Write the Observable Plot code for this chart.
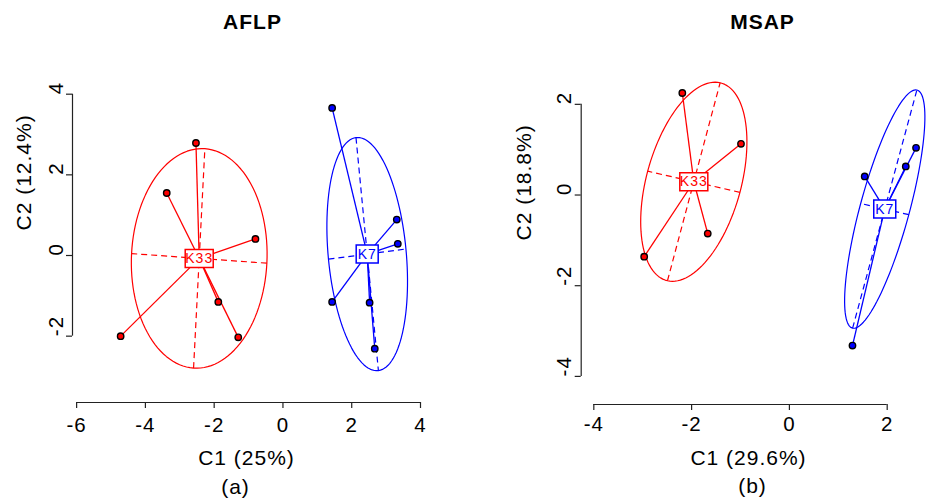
<!DOCTYPE html>
<html><head><meta charset="utf-8">
<script src="https://cdn.jsdelivr.net/npm/d3@7"></script>
<script src="https://cdn.jsdelivr.net/npm/@observablehq/plot@0.6"></script>
<style>
body{margin:0;background:#fff;}
#wrap{display:flex;width:928px;height:499px;overflow:hidden;}
#wrap svg text{letter-spacing:1px;}
</style></head><body><div id="wrap"></div>
<script>
// ---- data ----
const groupNames = ["K33", "K7"];
const groupColors = ["red", "blue"];

// AFLP
const aflpK33X = [-2.53, -3.38, -0.80, -1.88, -1.30, -4.72];
const aflpK33Y = [2.79, 1.55, 0.41, -1.15, -2.03, -2.00];
const aflpK7X  = [1.43, 3.31, 3.34, 1.43, 2.52, 2.67];
const aflpK7Y  = [3.66, 0.89, 0.29, -1.15, -1.17, -2.31];
const aflpXTicks = [-6, -4, -2, 0, 2, 4];
const aflpYTicks = [-2, 0, 2, 4];

// MSAP
const msapK33X = [-2.19, -0.99, -1.67, -2.97];
const msapK33Y = [2.25, 1.13, -0.85, -1.36];
const msapK7X  = [1.54, 2.38, 2.59, 1.29];
const msapK7Y  = [0.41, 0.63, 1.04, -3.32];
const msapXTicks = [-4, -2, 0, 2];
const msapYTicks = [-4, -2, 0, 2];

const FONT = '"Liberation Sans", Arial, Helvetica, sans-serif';
const CELLIPSE = 1.5;

function groupGeometry(xs, ys) {
  const pts = xs.map((x, i) => ({x, y: ys[i]}));
  const cx = d3.mean(xs), cy = d3.mean(ys);
  const a = d3.mean(pts, d => (d.x - cx) ** 2);
  const c = d3.mean(pts, d => (d.y - cy) ** 2);
  const b = d3.mean(pts, d => (d.x - cx) * (d.y - cy));
  const m = (a + c) / 2, r = Math.sqrt(((a - c) / 2) ** 2 + b * b);
  const l1 = m + r, l2 = Math.max(m - r, 0);
  const th = 0.5 * Math.atan2(2 * b, a - c);
  const u = [Math.cos(th) * CELLIPSE * Math.sqrt(l1), Math.sin(th) * CELLIPSE * Math.sqrt(l1)];
  const v = [-Math.sin(th) * CELLIPSE * Math.sqrt(l2), Math.cos(th) * CELLIPSE * Math.sqrt(l2)];
  const ell = d3.range(0, 361, 3).map(deg => {
    const t = deg * Math.PI / 180;
    return {x: cx + Math.cos(t) * u[0] + Math.sin(t) * v[0], y: cy + Math.cos(t) * u[1] + Math.sin(t) * v[1]};
  });
  const axes = [
    {x1: cx - u[0], y1: cy - u[1], x2: cx + u[0], y2: cy + u[1]},
    {x1: cx - v[0], y1: cy - v[1], x2: cx + v[0], y2: cy + v[1]}
  ];
  return {pts, cx, cy, ell, axes};
}

const boxSymbol = (w, h) => ({draw(ctx) { ctx.rect(-w / 2, -h / 2, w, h); }});

function panel(cfg) {
  const marks = [];
  cfg.groups.forEach((g, i) => {
    const color = groupColors[i];
    const G = groupGeometry(g.x, g.y);
    marks.push(Plot.line(G.ell, {x: "x", y: "y", stroke: color, strokeWidth: 1.2}));
    marks.push(Plot.link(G.axes, {x1: "x1", y1: "y1", x2: "x2", y2: "y2", stroke: color, strokeWidth: 1.2, strokeDasharray: "6,4"}));
    marks.push(Plot.link(G.pts, {x1: () => G.cx, y1: () => G.cy, x2: "x", y2: "y", stroke: color, strokeWidth: 1.3}));
    marks.push(Plot.dot(G.pts, {x: "x", y: "y", r: 3.2, fill: color, stroke: "#000", strokeWidth: 1.4}));
    const name = groupNames[i];
    marks.push(Plot.dot([G], {x: "cx", y: "cy", r: 5, symbol: boxSymbol(10 + 6 * name.length, 18), fill: "white", stroke: color, strokeWidth: 1.5}));
    marks.push(Plot.text([G], {x: "cx", y: "cy", text: () => name, fill: color, fontSize: 14, fontFamily: FONT}));
  });
  const xT = cfg.xTicks, yT = cfg.yTicks;
  // axes (R style: line spans first to last tick)
  marks.push(Plot.ruleY([cfg.yDomain[0]], {x1: xT[0], x2: xT[xT.length - 1], stroke: "#222", strokeWidth: 1.2}));
  marks.push(Plot.ruleX([cfg.xDomain[0]], {y1: yT[0], y2: yT[yT.length - 1], stroke: "#222", strokeWidth: 1.2}));
  marks.push(Plot.axisX({ticks: xT, tickSize: 6, tickFormat: () => "", stroke: "#222", strokeWidth: 1.2}));
  marks.push(Plot.axisY({ticks: yT, tickSize: 6, tickFormat: () => "", stroke: "#222", strokeWidth: 1.2}));
  marks.push(Plot.text(xT, {x: d => d, frameAnchor: "bottom", lineAnchor: "bottom", dy: cfg.tickDy, text: d => String(d), fontSize: 20.5, fill: "#000", fontFamily: FONT}));
  marks.push(Plot.text(yT, {y: d => d, frameAnchor: "left", rotate: -90, lineAnchor: "bottom", dx: -10, text: d => String(d), fontSize: 20.5, fill: "#000", fontFamily: FONT}));
  // labels
  marks.push(Plot.text([cfg.xLabel], {frameAnchor: "bottom", lineAnchor: "bottom", dy: cfg.xLabelDy, text: d => d, fontSize: 21, fill: "#000", fontFamily: FONT}));
  marks.push(Plot.text([cfg.yLabel], {frameAnchor: "left", rotate: -90, lineAnchor: "bottom", dx: cfg.yLabelDx, text: d => d, fontSize: 21, fill: "#000", fontFamily: FONT}));
  marks.push(Plot.text([cfg.title], {frameAnchor: "top", lineAnchor: "bottom", dy: cfg.titleDy, dx: cfg.titleDx, text: d => d, fontSize: 21, fontWeight: "bold", fill: "#000", fontFamily: FONT}));
  marks.push(Plot.text([cfg.caption], {frameAnchor: "bottom", lineAnchor: "bottom", dy: cfg.capDy, dx: cfg.capDx, text: d => d, fontSize: 21, fill: "#000", fontFamily: FONT}));

  return Plot.plot({
    width: 464, height: 499,
    marginLeft: cfg.margins[0], marginRight: cfg.margins[1], marginTop: cfg.margins[2], marginBottom: cfg.margins[3],
    x: {domain: cfg.xDomain}, y: {domain: cfg.yDomain},
    style: {background: "white", fontFamily: FONT, overflow: "visible"},
    marks
  });
}

const wrap = document.getElementById("wrap");
wrap.append(panel({
  title: "AFLP", caption: "(a)", xLabel: "C1 (25%)", yLabel: "C2 (12.4%)",
  groups: [{x: aflpK33X, y: aflpK33Y}, {x: aflpK7X, y: aflpK7Y}],
  xTicks: aflpXTicks, yTicks: aflpYTicks,
  xDomain: [-6.12, 4.0], yDomain: [-3.645, 4.885],
  margins: [72, 44, 58, 97],
  tickDy: 29, xLabelDy: 62, yLabelDx: -42, titleDy: -30, titleDx: 6, capDy: 91, capDx: -11
}));
wrap.append(panel({
  title: "MSAP", caption: "(b)", xLabel: "C1 (29.6%)", yLabel: "C2 (18.8%)",
  groups: [{x: msapK33X, y: msapK33Y}, {x: msapK7X, y: msapK7Y}],
  xTicks: msapXTicks, yTicks: msapYTicks,
  xDomain: [-4.258, 2.585], yDomain: [-4.62, 2.614],
  margins: [116.7, 12.7, 76, 95],
  tickDy: 26, xLabelDy: 60, yLabelDx: -50, titleDy: -48, titleDx: 14, capDy: 88, capDx: 4
}));
</script></body></html>
